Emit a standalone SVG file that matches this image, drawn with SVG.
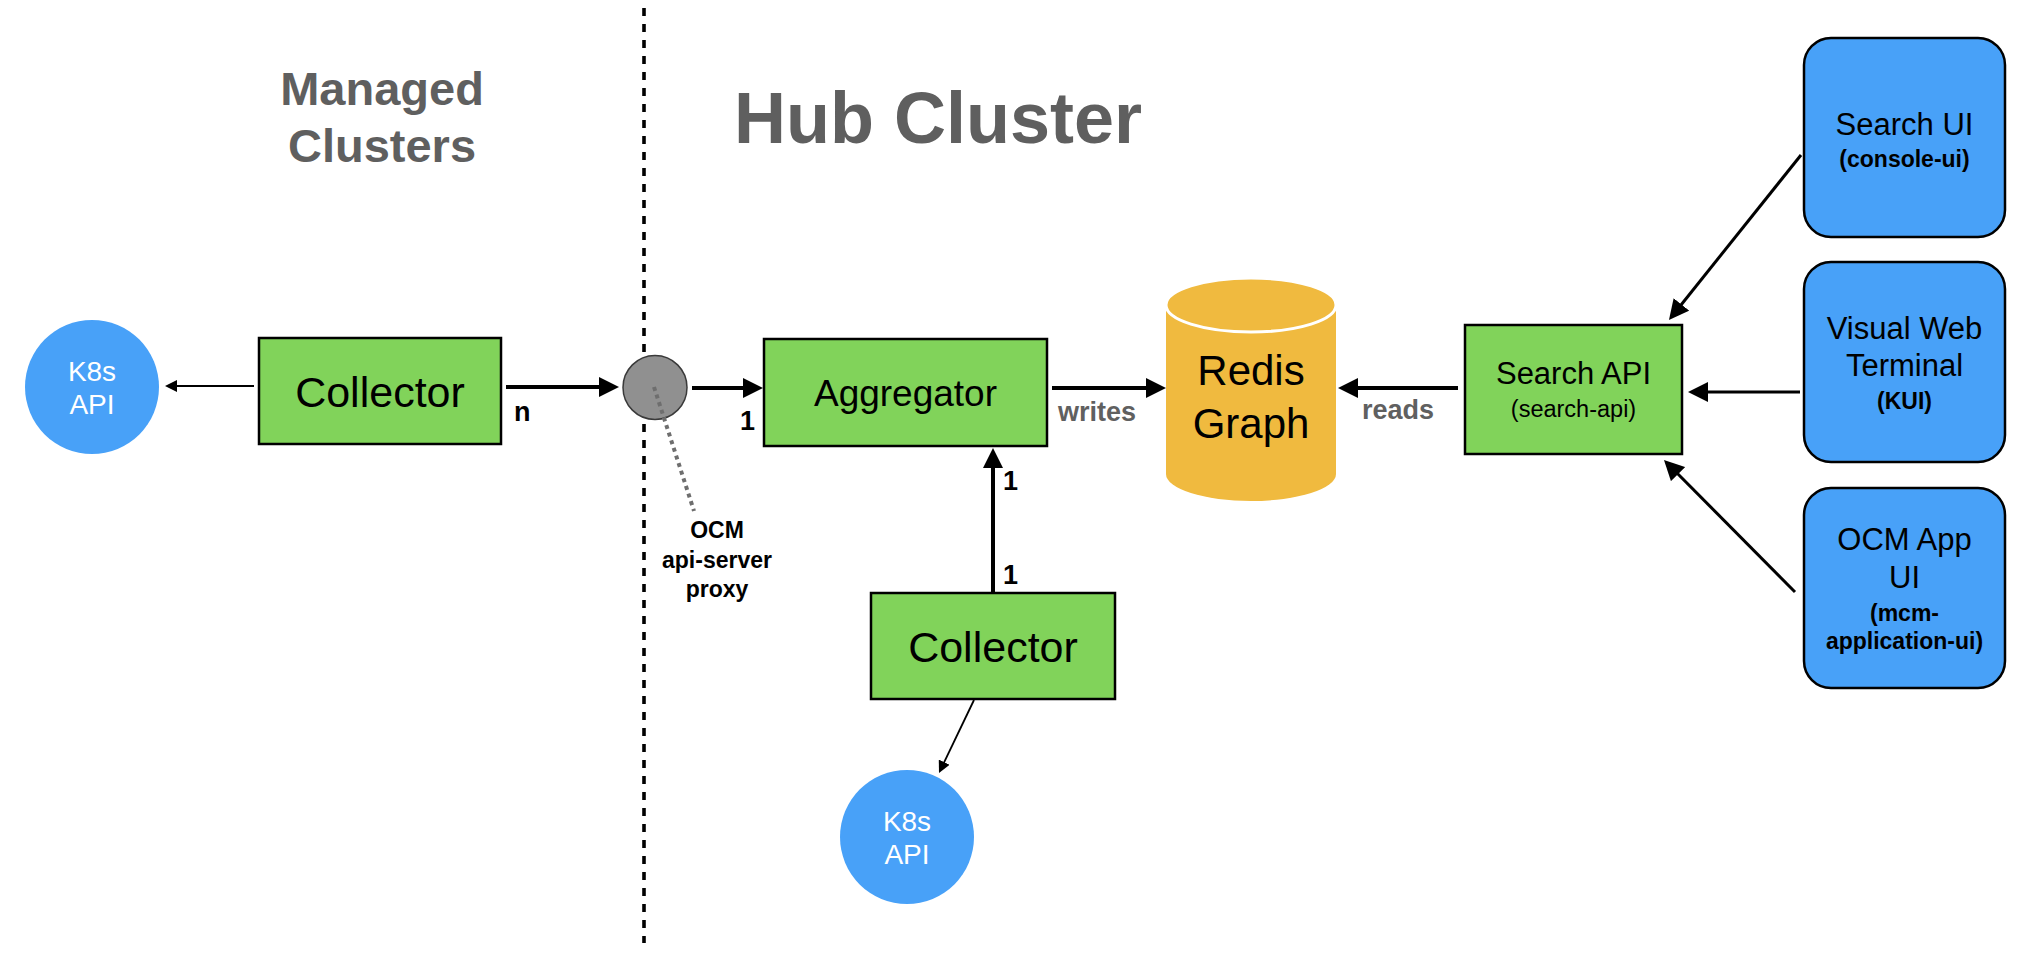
<svg xmlns="http://www.w3.org/2000/svg" width="2034" height="970" viewBox="0 0 2034 970">
<style>
text{font-family:"Liberation Sans",Arial,Helvetica,sans-serif;}
.title{font-weight:bold;fill:#5f5f5f;text-anchor:middle;}
.box{fill:#81d35a;stroke:#000;stroke-width:2.5;}
.ui{fill:#48a1f8;stroke:#000;stroke-width:2.5;}
.k8s{fill:#48a1f8;}
.k8st{fill:#fff;font-size:28px;text-anchor:middle;}
.lbl{fill:#000;text-anchor:middle;}
.num{fill:#000;font-weight:bold;font-size:27px;}
.glbl{fill:#606060;font-weight:bold;font-size:27px;}
.thick{stroke:#000;stroke-width:4;fill:none;}
.med{stroke:#000;stroke-width:3;fill:none;}
.thin{stroke:#000;stroke-width:1.8;fill:none;}
</style>
<defs>
<marker id="ah" viewBox="0 0 20 20" refX="10" refY="10" markerWidth="20" markerHeight="20" markerUnits="userSpaceOnUse" orient="auto"><path d="M0,0 L20,10 L0,20 z" fill="#000"/></marker>
<marker id="ahs" viewBox="0 0 12 12" refX="6" refY="6" markerWidth="12" markerHeight="12" markerUnits="userSpaceOnUse" orient="auto"><path d="M0,0 L12,6 L0,12 z" fill="#000"/></marker>
</defs>
<rect width="2034" height="970" fill="#fff"/>
<g id="titles">
<text class="title" x="382" y="105" font-size="47">Managed</text>
<text class="title" x="382" y="162" font-size="47">Clusters</text>
<text class="title" x="938" y="143" font-size="72">Hub Cluster</text>
</g>
<g id="divider">
<line x1="644" y1="8" x2="644" y2="943" stroke="#000" stroke-width="3.6" stroke-dasharray="8 8"/>
</g>
<g id="connectors">
<line class="thin" x1="254" y1="386" x2="171" y2="386" marker-end="url(#ahs)"/>
<line class="thick" x1="506" y1="387" x2="609" y2="387" marker-end="url(#ah)"/>
<line class="thick" x1="692" y1="388" x2="753" y2="388" marker-end="url(#ah)"/>
<line class="thick" x1="1052" y1="388" x2="1156" y2="388" marker-end="url(#ah)"/>
<line class="thick" x1="1458" y1="388" x2="1348" y2="388" marker-end="url(#ah)"/>
<line class="thick" x1="993" y1="593" x2="993" y2="458" marker-end="url(#ah)"/>
<line class="thin" x1="974" y1="700" x2="941.6" y2="767.6" marker-end="url(#ahs)"/>
<line class="med" x1="1801" y1="155" x2="1675.2" y2="312.2" marker-end="url(#ah)"/>
<line class="med" x1="1800" y1="392" x2="1698" y2="392" marker-end="url(#ah)"/>
<line class="med" x1="1795" y1="592" x2="1671" y2="467" marker-end="url(#ah)"/>
<text class="num" x="514" y="421">n</text>
<text class="num" x="740" y="430">1</text>
<text class="num" x="1003" y="490">1</text>
<text class="num" x="1003" y="584">1</text>
<text class="glbl" x="1058" y="421">writes</text>
<text class="glbl" x="1362" y="419">reads</text>
</g>
<g id="k8s-api-left">
<circle class="k8s" cx="92" cy="387" r="67"/>
<text class="k8st" x="92" y="381">K8s</text>
<text class="k8st" x="92" y="414">API</text>
</g>
<g id="collector-managed">
<rect class="box" x="259" y="338" width="242" height="106"/>
<text class="lbl" x="380" y="407" font-size="43">Collector</text>
</g>
<g id="proxy">
<circle cx="655" cy="387.5" r="32" fill="#909090" stroke="#3a3a3a" stroke-width="1.5"/>
<line x1="654" y1="387" x2="694" y2="511" stroke="#6e6e6e" stroke-width="4" stroke-dasharray="4 4"/>
<text class="lbl" x="717" y="538" font-size="23" font-weight="bold">OCM</text>
<text class="lbl" x="717" y="568" font-size="23" font-weight="bold">api-server</text>
<text class="lbl" x="717" y="597" font-size="23" font-weight="bold">proxy</text>
</g>
<g id="aggregator">
<rect class="box" x="764" y="339" width="283" height="107"/>
<text class="lbl" x="905.5" y="406" font-size="37">Aggregator</text>
</g>
<g id="redis-graph">
<path d="M1166,305 L1166,474 A85,27 0 0 0 1336,474 L1336,305 Z" fill="#f0ba3f"/>
<ellipse cx="1251" cy="305" rx="85" ry="27" fill="#f0ba3f" stroke="#fff" stroke-width="3"/>
<text class="lbl" x="1251" y="385" font-size="42">Redis</text>
<text class="lbl" x="1251" y="438" font-size="42">Graph</text>
</g>
<g id="search-api">
<rect class="box" x="1465" y="325" width="217" height="129"/>
<text class="lbl" x="1573.5" y="384" font-size="31">Search API</text>
<text class="lbl" x="1573.5" y="417" font-size="23.5">(search-api)</text>
</g>
<g id="collector-hub">
<rect class="box" x="871" y="593" width="244" height="106"/>
<text class="lbl" x="993" y="662" font-size="43">Collector</text>
</g>
<g id="k8s-api-hub">
<circle class="k8s" cx="907" cy="837" r="67"/>
<text class="k8st" x="907" y="831">K8s</text>
<text class="k8st" x="907" y="864">API</text>
</g>
<g id="search-ui">
<rect class="ui" x="1804" y="38" width="201" height="199" rx="27"/>
<text class="lbl" x="1904.5" y="135" font-size="31">Search UI</text>
<text class="lbl" x="1904.5" y="167" font-size="23" font-weight="bold">(console-ui)</text>
</g>
<g id="visual-web-terminal">
<rect class="ui" x="1804" y="262" width="201" height="200" rx="27"/>
<text class="lbl" x="1904.5" y="339" font-size="31">Visual Web</text>
<text class="lbl" x="1904.5" y="376" font-size="31">Terminal</text>
<text class="lbl" x="1904.5" y="409" font-size="23" font-weight="bold">(KUI)</text>
</g>
<g id="ocm-app-ui">
<rect class="ui" x="1804" y="488" width="201" height="200" rx="27"/>
<text class="lbl" x="1904.5" y="550" font-size="31">OCM App</text>
<text class="lbl" x="1904.5" y="588" font-size="31">UI</text>
<text class="lbl" x="1904.5" y="621" font-size="23" font-weight="bold">(mcm-</text>
<text class="lbl" x="1904.5" y="649" font-size="23" font-weight="bold">application-ui)</text>
</g>
</svg>
